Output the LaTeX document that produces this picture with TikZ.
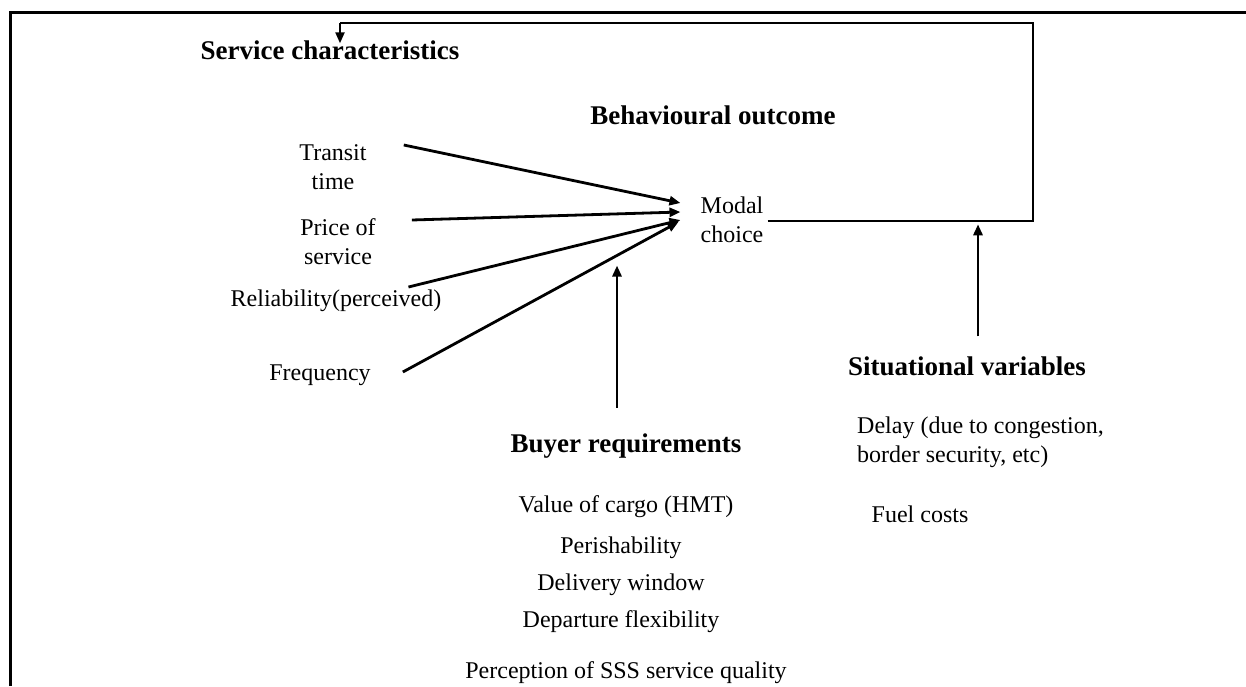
\documentclass[tikz,border=0pt]{standalone}
\usepackage{fontspec}
\setmainfont{Liberation Serif}
\usetikzlibrary{arrows.meta,calc}
\begin{document}
\begin{tikzpicture}[x=1pt,y=-1pt,
  txt/.style={inner sep=0pt,font=\fontsize{24}{29}\selectfont,align=center},
  hdr/.style={inner sep=0pt,font=\fontsize{27}{32}\selectfont\bfseries,align=center},
  arr/.style={line width=2.8pt,-{Triangle[length=11pt,width=9pt]}},
  fb/.style={line width=1.6pt},
  frame/.style={line width=3pt}]
\useasboundingbox (0,0) rectangle (1246,686);
\draw[frame] (10,686) -- (10,12) -- (1246,12);
% headings
\node[hdr] (sc) at (330,50) {Service characteristics};
\node[hdr] (bo) at (713,115) {Behavioural outcome};
\node[hdr] (br) at (626,446) {Buyer requirements};
\node[hdr] (sv) at (967,366) {Situational variables};
% service characteristics
\node[txt] (tt) at (333,167) {Transit\\time};
\node[txt] (ps) at (338,242) {Price of\\service};
\node[txt] (rel) at (336,301) {Reliability(perceived)};
\node[txt] (fr) at (320,375) {Frequency};
\node[txt] (mc) at (732,220) {Modal\\choice};
% buyer requirements
\node[txt] (vc) at (626,507) {Value of cargo (HMT)};
\node[txt] (pe) at (621,548) {Perishability};
\node[txt] (dw) at (621,585) {Delivery window};
\node[txt] (df) at (621,622) {Departure flexibility};
\node[txt] (pq) at (626,673) {Perception of SSS service quality};
% situational
\node[txt,align=left,anchor=west] (dl) at (857,442) {Delay (due to congestion,\\border security, etc)};
\node[txt] (fc) at (920,514) {Fuel costs};
% arrows into modal choice
\coordinate (fbcorner) at (1033,221);
\coordinate (fbtop) at (340,23);
\draw[arr] ($(tt.east)+(37,-22)$) -- ($(mc.west)+(-20,-17)$);
\draw[arr] ($(ps.east)+(36,-22)$) -- ($(mc.west)+(-20,-8)$);
\draw[arr] ($(rel.east)+(-33,-14)$) -- ($(mc.west)+(-20,0)$);
\draw[arr] ($(fr.east)+(32,-3)$) -- ($(mc.west)+(-22,2)$);
% buyer requirements arrow
\draw[arr] ($(br.north)+(-9,-26)$) -- ($(br.north)+(-9,-168)$);
% situational arrow
\draw[arr] ($(sv.north)+(11,-20)$) -- ($(sv.north)+(11,-132)$);
% feedback loop
\draw[fb] ($(mc.east)+(4,1)$) -- (fbcorner) |- (fbtop);
\draw[arr,line width=2.2pt] (fbtop) -- ($(sc.north -| fbtop)+(0,3)$);
\end{tikzpicture}
\end{document}
